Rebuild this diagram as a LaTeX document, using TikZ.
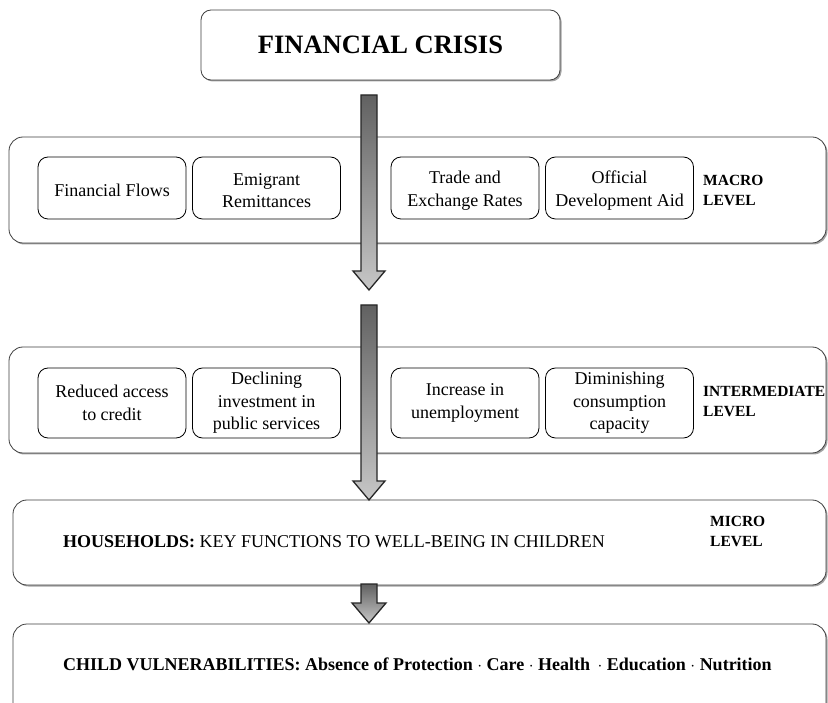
\documentclass[tikz,border=0pt]{standalone}
\usepackage{fontspec}
\setmainfont{Liberation Serif}
\usetikzlibrary{shadows}
\begin{document}
\begin{tikzpicture}[x=1pt,y=-1pt,
  outerbox/.style={draw=black!75, line width=0.8pt, rounded corners=14pt, fill=white,
     drop shadow={shadow xshift=1.5pt, shadow yshift=-1.5pt, fill=black!45, opacity=0.8}},
  innerbox/.style={draw=black, line width=0.8pt, rounded corners=10pt, fill=white, minimum width=148pt, minimum height=62pt, align=center, inner sep=2pt, font=\fontsize{18}{22.5}\selectfont},
  leveltxt/.style={anchor=north west, align=left, inner sep=0pt, font=\bfseries\fontsize{15.5}{20.5}\selectfont},
  blockarrow/.style={draw=black!85, line width=1.3pt, line join=miter, top color=black!62, bottom color=black!22}
]
\useasboundingbox (0,0) rectangle (828,703);
\fill[white] (0,0) rectangle (828,703);

% top box
\node[outerbox, rounded corners=10pt, minimum width=359pt, minimum height=70pt, font=\bfseries\fontsize{26.5}{30}\selectfont] (crisis) at (380.5,45) {FINANCIAL CRISIS};

% macro level
\node[outerbox, minimum width=817pt, minimum height=106pt] (macro) at (417.5,190) {};
\node[innerbox] (ff) at (112,188) {};
\node[innerbox] (er) at (266.5,188) {};
\node[innerbox] (te) at (465,188) {};
\node[innerbox] (oda) at (619.5,188) {};
\node[align=center, font=\fontsize{18}{22.5}\selectfont] (fft) at (112,190.5) {Financial Flows};
\node[align=center, font=\fontsize{18}{22.5}\selectfont] (ert) at (266.5,190.5) {Emigrant\\Remittances};
\node[align=center, font=\fontsize{18}{22.5}\selectfont] (tet) at (465,190.5) {Trade and\\Exchange Rates};
\node[align=center, font=\fontsize{18}{22.5}\selectfont] (odat) at (619.5,190.5) {Official\\Development Aid};
\node[leveltxt] (macrolbl) at (703,175) {MACRO\\LEVEL};

% intermediate level
\node[outerbox, minimum width=817pt, minimum height=106pt] (inter) at (417.5,400) {};
\node[innerbox, minimum height=70pt] (rac) at (112,403) {Reduced access\\to credit};
\node[innerbox, minimum height=70pt] (dip) at (266.5,403) {Declining\\investment in\\public services};
\node[innerbox, minimum height=70pt] (iu) at (465,403) {Increase in\\unemployment};
\node[innerbox, minimum height=70pt] (dcc) at (619.5,403) {Diminishing\\consumption\\capacity};
\node[leveltxt] (interlbl) at (703,386) {INTERMEDIATE\\LEVEL};

% micro level
\node[outerbox, minimum width=813pt, minimum height=85pt] (micro) at (419.5,542.5) {};
\node[anchor=west, inner sep=0pt, font=\fontsize{18}{22}\selectfont] (hh) at (63,541.5) {\textbf{HOUSEHOLDS:} KEY FUNCTIONS TO WELL-BEING IN CHILDREN};
\node[leveltxt] (microlbl) at (710,516) {MICRO\\LEVEL};

% child vulnerabilities (cut off at the bottom)
\begin{scope}
\clip (0,0) rectangle (828,703);
\node[outerbox, minimum width=813pt, minimum height=100pt] (child) at (419.5,674) {};
\end{scope}
\node[anchor=west, inner sep=0pt, font=\bfseries\fontsize{18}{22}\selectfont] (cv) at (63,664.5) {CHILD VULNERABILITIES: Absence of Protection $\cdot$ Care $\cdot$ Health \,$\cdot$ Education $\cdot$ Nutrition};

% block arrows
\path[blockarrow] (361,95) -- (377,95) -- (377,271) -- (385,271) -- (369,290) -- (353,271) -- (361,271) -- cycle;
\path[blockarrow] (361,305) -- (377,305) -- (377,481) -- (385,481) -- (369,500) -- (353,481) -- (361,481) -- cycle;
\path[blockarrow] (361,584) -- (377,584) -- (377,603) -- (386,603) -- (369,623) -- (352,603) -- (361,603) -- cycle;
\end{tikzpicture}
\end{document}
